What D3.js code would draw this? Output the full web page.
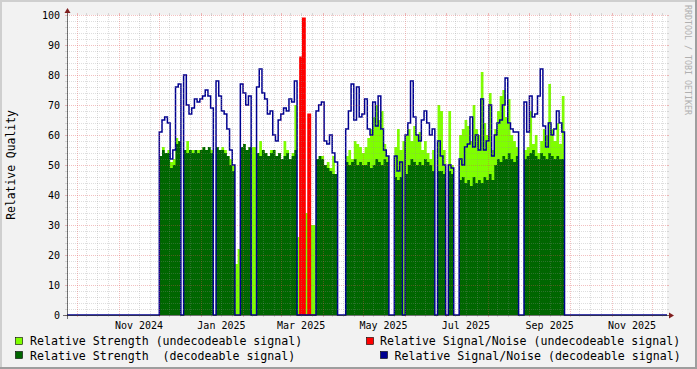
<!DOCTYPE html>
<html>
<head>
<meta charset="utf-8">
<script src="https://cdn.jsdelivr.net/npm/d3@7"></script>
<style>
  body { margin: 0; background: #f2f2f2; }
  svg { display: block; font-family: "DejaVu Sans Mono", monospace; }
</style>
</head>
<body>
<svg id="chart" width="697" height="369"></svg>
<script>
// one sample every 2 days, first sample 1 Dec 2024
var sampleStart = new Date(Date.UTC(2024, 11, 1));
var sampleDays = 2;

var n = null;

// Relative Strength (undecodeable signal)
var strengthUndec = [
  53,56,54,55,51,52,59,58, n,
  55,58,55,55,54,55,55,56,55,56,55, n,
  56,55,56,55,53,52,50, 17,22,
  56,57,55,56, 56,56,
  54,58,55,54,53,55,55,53,54,52,58,55,52,54,70,
  26,26,30,34,34,30,30,
  52,53,53,50,51,49,53,47, n,n,n,
  53,55,52,58,57,56,54,56,59,62,66,70,65,68,57,53, n,n,
  56,62,55, 58,
  60,62,58,63,60,61,55,58,54,52,55, n,
  70,68,55, n, 68,50, n,n,
  60,62,65,63,58,70,62,60,81,64,60,74,55,62,68,73,75,66,72,60,58,56, n,n,
  55,56,68,57,60,54,58,62,60,77,62,58,64,57,73
];

// Relative Strength (decodeable signal)
var strengthDec = [
  53,55,54,54,49,50,57,58, n,
  55,54,55,54,55,54,55,56,55,56,54, n,
  56,55,55,54,53,50,48, n,n,
  56,57,55,56, n,n,
  54,53,55,54,53,54,55,53,54,52,53,54,52,53,55,
  n,n,n,n,n,n,n,
  52,53,52,50,49,48,47,47, n,n,n,
  51,50,51,52,50,51,50,50,51,49,50,52,51,50,52,51, n,n,
  46,45,46, n,
  47,50,52,51,50,51,50,52,51,50,48, n,
  48,48,47, n, 48,47, n,n,
  45,46,44,45,43,46,44,45,44,46,45,47,45,50,52,51,53,52,54,52,51,53, n,n,
  52,53,54,55,53,52,54,53,52,54,53,52,53,52,52
];

// Relative Signal/Noise (decodeable signal)
var snrDec = [
  61,65,66,64,52,55,76,77, 0,
  80,70,67,69,72,71,72,73,75,73,69, 0,
  78,73,68,67,62,55,50, 0,0,
  77,74,70,73, 0,0,
  76,82,74,72,67,68,60,58,65,67,69,68,72,71,78,
  0,0,0,0,0,0,0,
  68,70,71,58,57,60,54,51, 0,0,0,
  62,68,77,65,76,66,67,72,62,60,71,63,73,62,55,53, 0,0,
  53,48,51, 0,
  60,64,78,66,60,58,65,68,64,60,62, 0,
  58,53,50, 0, 50,49, 0,0,
  52,50,56,57,66,56,60,55,72,55,58,70,53,60,64,65,70,79,64,62,61,61, 0,0,
  71,61,73,66,67,73,82,63,56,64,60,62,68,64,61
];

// Relative Signal/Noise (undecodeable signal), only around early March
var snrUndecFrom = 51;
var snrUndec = [0, 86, 99, 0, 67, 0, 0];

var yTicks = [0, 10, 20, 30, 40, 50, 60, 70, 80, 90, 100];

var legendLabels = [
  "Relative Strength (undecodeable signal)",
  "Relative Signal/Noise (undecodeable signal)",
  "Relative Strength  (decodeable signal)",
  "Relative Signal/Noise (decodeable signal)"
];
var legendColors = ["#7fff00", "#ff0000", "#006600", "#000090"];

var X0 = 67, X1 = 667, Y0 = 315, Y1 = 15;

var x = d3.scaleUtc()
  .domain([new Date(Date.UTC(2024, 8, 23, 16)), new Date(Date.UTC(2025, 11, 11, 21))])
  .range([X0, X1]);
var y = d3.scaleLinear().domain([0, 100]).range([Y0, Y1]);

function day(i) {
  return new Date(sampleStart.getTime() + i * sampleDays * 864e5);
}

// turn samples into step points, closing every run at the end of its last sample
function steps(values, from) {
  var pts = [];
  values.forEach(function(v, k) {
    var i = from + k;
    pts.push({t: day(i), v: v});
    var next = values[k + 1];
    if (v != null && next == null) pts.push({t: day(i + 1), v: v});
  });
  return pts;
}

var svg = d3.select("#chart");

// background + 3d shade
svg.append("rect").attr("width", 697).attr("height", 369).attr("fill", "#f2f2f2");
svg.append("rect").attr("x", 0).attr("y", 0).attr("width", 697).attr("height", 2).attr("fill", "#cfcfcf");
svg.append("rect").attr("x", 0).attr("y", 0).attr("width", 2).attr("height", 369).attr("fill", "#cfcfcf");
svg.append("rect").attr("x", 695).attr("y", 0).attr("width", 2).attr("height", 369).attr("fill", "#9e9e9e");
svg.append("rect").attr("x", 0).attr("y", 367).attr("width", 697).attr("height", 2).attr("fill", "#9e9e9e");

svg.append("rect").attr("x", X0).attr("y", Y1).attr("width", X1 - X0).attr("height", Y0 - Y1).attr("fill", "#fff");

var area = d3.area()
  .defined(function(d) { return d.v != null; })
  .curve(d3.curveStepAfter)
  .x(function(d) { return x(d.t); })
  .y0(y(0))
  .y1(function(d) { return y(d.v); });

var line = d3.line()
  .defined(function(d) { return d.v != null; })
  .curve(d3.curveStepAfter)
  .x(function(d) { return x(d.t); })
  .y(function(d) { return y(d.v); });

svg.append("path").attr("d", area(steps(strengthUndec, 0))).attr("fill", legendColors[0]);
svg.append("path").attr("d", area(steps(strengthDec, 0))).attr("fill", legendColors[2]);

// red is so dense in the original that it reads as a filled column
var red = steps(snrUndec, snrUndecFrom);
svg.append("path").attr("d", area(red)).attr("fill", legendColors[1]);
svg.append("path").attr("d", line(red))
  .attr("fill", "none").attr("stroke", legendColors[1]).attr("stroke-width", 1.2);

var dom = x.domain();
var blue = [{t: dom[0], v: 0}].concat(steps(snrDec, 0));
blue.push({t: day(snrDec.length), v: 0});
blue.push({t: dom[1], v: 0});
svg.append("path").attr("d", line(blue))
  .attr("fill", "none").attr("stroke", legendColors[3]).attr("stroke-width", 1.5);

// grid
var gridCol = "rgba(143,143,143,0.75)", mgridCol = "rgba(222,79,79,0.6)";
var grid = svg.append("g");

function hgrid(v, major) {
  var yy = Math.round(y(v)) + 0.5;
  var col = major ? mgridCol : gridCol, w = major ? 0.6 : 0.4;
  grid.append("line").attr("x1", X0 - 2).attr("x2", X0).attr("y1", yy).attr("y2", yy)
    .attr("stroke", col).attr("stroke-width", w);
  grid.append("line").attr("x1", X1).attr("x2", X1 + 2).attr("y1", yy).attr("y2", yy)
    .attr("stroke", col).attr("stroke-width", w);
  if (v > 0)
    grid.append("line").attr("x1", X0).attr("x2", X1).attr("y1", yy).attr("y2", yy)
      .attr("stroke", col).attr("stroke-width", w).attr("stroke-dasharray", "1,1");
}
function vgrid(t, major) {
  var xx = Math.round(x(t)) + 0.5;
  var col = major ? mgridCol : gridCol, w = major ? 0.6 : 0.4;
  grid.append("line").attr("x1", xx).attr("x2", xx).attr("y1", Y0).attr("y2", Y0 + 2)
    .attr("stroke", col).attr("stroke-width", w);
  grid.append("line").attr("x1", xx).attr("x2", xx).attr("y1", Y1 - 2).attr("y2", Y1)
    .attr("stroke", col).attr("stroke-width", w);
  grid.append("line").attr("x1", xx).attr("x2", xx).attr("y1", Y1).attr("y2", Y0)
    .attr("stroke", col).attr("stroke-width", w).attr("stroke-dasharray", "1,1");
}

d3.range(0, 101, 2).forEach(function(v) { if (v % 10) hgrid(v, false); });
yTicks.forEach(function(v) { hgrid(v, true); });

var months = d3.utcMonth.range(d3.utcMonth.floor(dom[0]), dom[1]);
months.forEach(function(m) {
  [7, 15, 23].forEach(function(dd) {
    var t = d3.utcDay.offset(m, dd);
    if (t > dom[0] && t < dom[1]) vgrid(t, false);
  });
});
months.forEach(function(m) { if (m > dom[0]) vgrid(m, true); });

// axes
var axisCol = "#1f1f1f";
svg.append("line").attr("x1", X0 - 4).attr("x2", X1 + 4).attr("y1", Y0 + 0.5).attr("y2", Y0 + 0.5)
  .attr("stroke", axisCol).attr("stroke-width", 0.6);
svg.append("line").attr("x1", X0 + 0.5).attr("x2", X0 + 0.5).attr("y1", Y0 + 4).attr("y2", Y1 - 4)
  .attr("stroke", axisCol).attr("stroke-width", 0.6);
svg.append("path").attr("fill", "#801f1f")
  .attr("d", "M" + (X1 + 2) + "," + (Y0 - 2.5) + "L" + (X1 + 2) + "," + (Y0 + 3.5) + "L" + (X1 + 7) + "," + (Y0 + 0.5) + "Z");
svg.append("path").attr("fill", "#801f1f")
  .attr("d", "M" + (X0 - 2.5) + "," + (Y1 - 2) + "L" + (X0 + 3.5) + "," + (Y1 - 2) + "L" + (X0 + 0.5) + "," + (Y1 - 7) + "Z");

// tick labels
svg.append("g").selectAll("text").data(yTicks).enter().append("text")
  .attr("x", 60).attr("y", function(d) { return y(d) + 4; })
  .attr("text-anchor", "end").attr("font-size", "10px").attr("fill", "#000")
  .text(function(d) { return d; });

var labelMonths = d3.utcMonth.every(2).range(dom[0], dom[1]);
svg.append("g").selectAll("text").data(labelMonths).enter().append("text")
  .attr("x", function(d) { return x(d3.utcDay.offset(d, 15)); })
  .attr("y", 329)
  .attr("text-anchor", "middle").attr("font-size", "10px").attr("fill", "#000")
  .text(function(d) { return d3.utcFormat("%b %Y")(d); });

svg.append("text")
  .attr("transform", "translate(15,165) rotate(-90)")
  .attr("text-anchor", "middle").attr("font-size", "11.4px").attr("fill", "#000")
  .text("Relative Quality");

svg.append("text")
  .attr("transform", "translate(684.5,5) rotate(90)")
  .attr("font-size", "8.3px").attr("fill", "#b0b0b0")
  .text("RRDTOOL / TOBI OETIKER");

// legend
var legendPos = [[15, 337, 30, 345.3], [366, 337, 380, 345.3], [15, 351, 30, 359.5], [380, 351, 394.5, 359.5]];
legendLabels.forEach(function(lab, i) {
  var p = legendPos[i];
  svg.append("rect").attr("x", p[0] + 0.5).attr("y", p[1] + 0.5).attr("width", 7).attr("height", 7)
    .attr("fill", legendColors[i]).attr("stroke", "#000").attr("stroke-width", 0.6);
  svg.append("text").attr("x", p[2]).attr("y", p[3]).attr("font-size", "11.6px").attr("fill", "#000")
    .style("white-space", "pre").text(lab);
});
</script>
</body>
</html>
